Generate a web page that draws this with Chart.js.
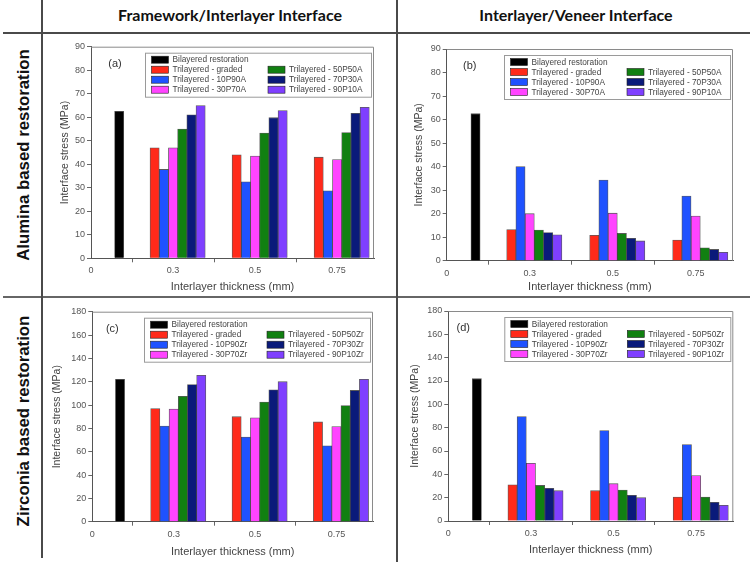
<!DOCTYPE html>
<html>
<head>
<meta charset="utf-8">
<script src="https://cdn.jsdelivr.net/npm/chart.js@4.4.0/dist/chart.umd.min.js"></script>
<style>
  body { margin: 0; background: #fff; }
  #pagina { position: relative; width: 750px; height: 562px; overflow: hidden; font-family: 'Liberation Sans', Arial, sans-serif; }
  .linha { position: absolute; background: #4a4a4a; }
  .cabecalho { position: absolute; top: 5px; font-family: Lato, sans-serif; font-weight: 700; font-size: 16px; color: #111; transform: translateX(-50%); white-space: nowrap; }
  .rotulo { position: absolute; font-weight: 700; font-size: 16.8px; color: #111; white-space: nowrap; transform: translate(-50%, -50%) rotate(-90deg); }
  .painel { position: absolute; }
</style>
</head>
<body>
<div id="pagina">
  <div class="painel" style="left:43px; top:34px; width:353px; height:262px"><canvas id="graficoA"></canvas></div>
  <div class="painel" style="left:398px; top:34px; width:352px; height:262px"><canvas id="graficoB"></canvas></div>
  <div class="painel" style="left:43px; top:298px; width:353px; height:264px"><canvas id="graficoC"></canvas></div>
  <div class="painel" style="left:398px; top:298px; width:352px; height:264px"><canvas id="graficoD"></canvas></div>

  <div class="linha" style="left:3px; top:32px; width:747px; height:2px"></div>
  <div class="linha" style="left:3px; top:296px; width:747px; height:2px; background:#666"></div>
  <div class="linha" style="left:41px; top:0; width:2px; height:558px"></div>
  <div class="linha" style="left:396px; top:0; width:2px; height:562px"></div>

  <div class="cabecalho" style="left:230px">Framework/Interlayer Interface</div>
  <div class="cabecalho" style="left:576px">Interlayer/Veneer Interface</div>
  <div class="rotulo" style="left:24px; top:155px">Alumina based restoration</div>
  <div class="rotulo" style="left:24px; top:421px">Zirconia based restoration</div>
</div>
<script>
// Eixo x: rótulos das espessuras e suas posições (índices)
const espessuras = ['0', '0.3', '0.5', '0.75'];
const posicoes = [0, 1, 2, 3];
const posGrupos = [1, 2, 3];
const posBicamada = 0.68;

const nomesAlumina = ['Bilayered restoration', 'Trilayered - graded', 'Trilayered - 10P90A', 'Trilayered - 30P70A',
  'Trilayered - 50P50A', 'Trilayered - 70P30A', 'Trilayered - 90P10A'];
const nomesZirconia = ['Bilayered restoration', 'Trilayered - graded', 'Trilayered - 10P90Zr', 'Trilayered - 30P70Zr',
  'Trilayered - 50P50Zr', 'Trilayered - 70P30Zr', 'Trilayered - 90P10Zr'];

// Restauração bicamada (a, b, c, d)
const bicamada = [62.5, 62.5, 122, 122];

// Tricamada, uma linha por série: graded, 10P90, 30P70, 50P50, 70P30, 90P10
const tensaoA = [
  [47, 44, 43],
  [37.8, 32.5, 28.7],
  [47, 43.5, 42],
  [55, 53.3, 53.5],
  [61, 59.8, 61.7],
  [65, 62.8, 64.2]
];
const tensaoB = [
  [13.2, 10.8, 8.8],
  [40, 34.3, 27.5],
  [20, 20.2, 19],
  [13, 11.6, 5.5],
  [12, 9.5, 4.8],
  [11, 8.4, 3.6]
];
const tensaoC = [
  [97, 90, 85.5],
  [82, 72.5, 65],
  [96.5, 89, 81.5],
  [107.5, 102.5, 99.5],
  [117.5, 113, 112.5],
  [125.5, 120, 122]
];
const tensaoD = [
  [31, 26, 20.5],
  [89.5, 77.5, 65.5],
  [49.5, 32, 39],
  [30.5, 26.5, 20.5],
  [28, 22, 16],
  [26, 20, 13.5]
];

const cores = ['#000000', '#ff2a1a', '#1f52ff', '#ff44ff', '#118011', '#0a1a7a', '#7f3fff'];

// Moldura, rótulo do painel e legenda em duas colunas
const quadro = {
  id: 'quadro',
  afterDraw(chart, args, opts) {
    const { ctx, chartArea: a } = chart;
    ctx.save();
    ctx.strokeStyle = '#8a8a8a';
    ctx.lineWidth = 1;
    ctx.beginPath();
    ctx.moveTo(a.left, a.top + 0.5);
    ctx.lineTo(a.right - 0.5, a.top + 0.5);
    ctx.lineTo(a.right - 0.5, a.bottom);
    ctx.stroke();

    ctx.fillStyle = '#333';
    ctx.font = '11px "Liberation Sans", Arial, sans-serif';
    ctx.textAlign = 'center';
    ctx.textBaseline = 'middle';
    ctx.fillText(opts.letra, a.left + opts.dxLetra, a.top + 17);

    const w = 226, h = 44;
    const x0 = a.right - 3 - w, y0 = a.top + 6;
    ctx.strokeStyle = '#9a9a9a';
    ctx.strokeRect(x0 + 0.5, y0 + 0.5, w, h);
    ctx.font = '8.3px "Liberation Sans", Arial, sans-serif';
    ctx.textAlign = 'left';
    chart.data.datasets.forEach((ds, i) => {
      const col = i === 0 ? 0 : Math.floor((i - 1) / 3);
      const lin = i === 0 ? 0 : (i - 1) % 3 + 1;
      const sx = x0 + (col ? 123 : 6.5);
      const sy = y0 + 7 + lin * 10;
      ctx.fillStyle = ds.backgroundColor;
      ctx.fillRect(sx, sy - 3.5, 17, 7);
      ctx.strokeStyle = '#222';
      ctx.lineWidth = 0.6;
      ctx.strokeRect(sx, sy - 3.5, 17, 7);
      ctx.fillStyle = '#444';
      ctx.fillText(ds.label, sx + 21, sy + 0.5);
    });
    ctx.restore();
  }
};

// Função para criar um painel
function criarGrafico(id, letra, nomes, valorBi, tensoes, maxY, passo, lay) {
  const datasets = nomes.map((nome, i) => ({
    label: nome,
    data: i === 0 ? [{ x: posBicamada, y: valorBi }]
                  : posGrupos.map((p, k) => ({ x: p, y: tensoes[i - 1][k] })),
    backgroundColor: cores[i],
    borderColor: 'rgba(20,20,20,0.7)',
    borderWidth: 0.8,
    barThickness: 9.2
  }));

  new Chart(document.getElementById(id), {
    type: 'bar',
    data: { datasets },
    plugins: [quadro],
    options: {
      responsive: true,
      maintainAspectRatio: false,
      animation: false,
      layout: { padding: { left: lay.pl, top: lay.pt, right: lay.pr, bottom: lay.pb } },
      plugins: {
        legend: { display: false },
        tooltip: { enabled: false },
        quadro: { letra: letra, dxLetra: lay.dx }
      },
      scales: {
        x: {
          type: 'linear',
          min: 0,
          max: 3.45,
          offset: false,
          afterBuildTicks: s => { s.ticks = posicoes.map(v => ({ value: v })); },
          afterFit: s => { s.height = lay.h; },
          ticks: {
            callback: (v, i) => espessuras[i],
            autoSkip: false,
            maxRotation: 0,
            color: '#555',
            font: { size: 9, family: '"Liberation Sans", Arial' }
          },
          grid: { drawOnChartArea: false, tickLength: 4, color: '#666' },
          border: { color: '#555' },
          title: {
            display: true,
            text: 'Interlayer thickness (mm)',
            color: '#444',
            font: { size: 11, family: '"Liberation Sans", Arial' },
            padding: { top: 2, bottom: 2 }
          }
        },
        y: {
          min: 0,
          max: maxY,
          afterFit: s => { s.width = lay.w; },
          ticks: {
            stepSize: passo / 2,
            callback: v => (v % passo === 0 ? v : ''),
            color: '#555',
            padding: 2,
            font: { size: 9, family: '"Liberation Sans", Arial' }
          },
          grid: { drawOnChartArea: false, tickLength: 4, color: '#666' },
          border: { color: '#555' },
          title: {
            display: true,
            text: 'Interface stress (MPa)',
            color: '#444',
            font: { size: 10.5, family: '"Liberation Sans", Arial' },
            padding: { top: 2, bottom: 2 }
          }
        }
      }
    }
  });
}

criarGrafico('graficoA', '(a)', nomesAlumina, bicamada[0], tensaoA, 90, 10,
  { pl: 14, pt: 12.7, pr: 22, pb: 0.4, w: 34, h: 37.3, dx: 24 });
criarGrafico('graficoB', '(b)', nomesAlumina, bicamada[1], tensaoB, 90, 10,
  { pl: 12.7, pt: 15, pr: 17, pb: 0, w: 36, h: 35.3, dx: 23 });
criarGrafico('graficoC', '(c)', nomesZirconia, bicamada[2], tensaoC, 180, 20,
  { pl: 6.3, pt: 13.7, pr: 23, pb: 1.7, w: 43, h: 38.6, dx: 20 });
criarGrafico('graficoD', '(d)', nomesZirconia, bicamada[3], tensaoD, 180, 20,
  { pl: 9.3, pt: 13, pr: 16.7, pb: 3.4, w: 41, h: 37.6, dx: 15 });
</script>
</body>
</html>
